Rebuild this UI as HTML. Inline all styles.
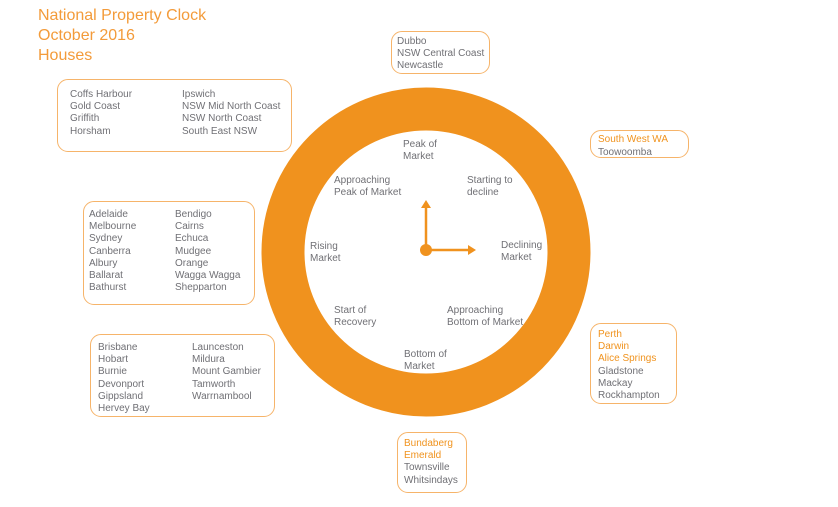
<!DOCTYPE html>
<html><head><meta charset="utf-8"><style>
body{margin:0;width:838px;height:507px;background:#fff;position:relative;overflow:hidden;font-family:"Liberation Sans",sans-serif}
.t{position:absolute;font-size:10px;line-height:12.2px;color:#707075;white-space:nowrap}
.o{color:#f0931e}
.b{position:absolute;border:1.5px solid #f6b46a;border-radius:11px;box-sizing:border-box}
.h{position:absolute;left:38px;top:6px;font-size:16px;line-height:20px;color:#f39b3a}
</style></head><body>
<div class="h">National Property Clock<br>October 2016<br>Houses</div>

<svg style="position:absolute;left:0;top:0" width="838" height="507">
<circle cx="426" cy="252" r="143" fill="none" stroke="#f0921e" stroke-width="43"/>
<circle cx="426" cy="250" r="6" fill="#f0921e"/>
<line x1="426" y1="250" x2="426" y2="205" stroke="#f0921e" stroke-width="2.5"/>
<polygon points="421,208 431,208 426,200" fill="#f0921e"/>
<line x1="426" y1="250" x2="470" y2="250" stroke="#f0921e" stroke-width="2.5"/>
<polygon points="468,245 468,255 476,250" fill="#f0921e"/>
</svg>

<div class="b" style="left:57px;top:79px;width:235px;height:73px"></div>
<div class="t" style="left:70px;top:89px">Coffs Harbour<br>Gold Coast<br>Griffith<br>Horsham</div>
<div class="t" style="left:182px;top:89px">Ipswich<br>NSW Mid North Coast<br>NSW North Coast<br>South East NSW</div>

<div class="b" style="left:83px;top:201px;width:172px;height:104px"></div>
<div class="t" style="left:89px;top:209px">Adelaide<br>Melbourne<br>Sydney<br>Canberra<br>Albury<br>Ballarat<br>Bathurst</div>
<div class="t" style="left:175px;top:209px">Bendigo<br>Cairns<br>Echuca<br>Mudgee<br>Orange<br>Wagga Wagga<br>Shepparton</div>

<div class="b" style="left:90px;top:334px;width:185px;height:83px"></div>
<div class="t" style="left:98px;top:342px">Brisbane<br>Hobart<br>Burnie<br>Devonport<br>Gippsland<br>Hervey Bay</div>
<div class="t" style="left:192px;top:342px">Launceston<br>Mildura<br>Mount Gambier<br>Tamworth<br>Warrnambool</div>

<div class="b" style="left:391px;top:31px;width:99px;height:43px"></div>
<div class="t" style="left:397px;top:36px">Dubbo<br>NSW Central Coast<br>Newcastle</div>

<div class="b" style="left:590px;top:130px;width:99px;height:28px"></div>
<div class="t" style="left:598px;top:133px;line-height:13px"><span class="o">South West WA</span><br>Toowoomba</div>

<div class="b" style="left:590px;top:323px;width:87px;height:81px"></div>
<div class="t" style="left:598px;top:329px"><span class="o">Perth<br>Darwin<br>Alice Springs</span><br>Gladstone<br>Mackay<br>Rockhampton</div>

<div class="b" style="left:397px;top:432px;width:70px;height:61px"></div>
<div class="t" style="left:404px;top:438px"><span class="o">Bundaberg<br>Emerald</span><br>Townsville<br>Whitsindays</div>

<div class="t" style="left:403px;top:139px">Peak of<br>Market</div>
<div class="t" style="left:334px;top:175px">Approaching<br>Peak of Market</div>
<div class="t" style="left:467px;top:175px">Starting to<br>decline</div>
<div class="t" style="left:310px;top:241px">Rising<br>Market</div>
<div class="t" style="left:501px;top:240px">Declining<br>Market</div>
<div class="t" style="left:334px;top:305px">Start of<br>Recovery</div>
<div class="t" style="left:447px;top:305px">Approaching<br>Bottom of Market</div>
<div class="t" style="left:404px;top:349px">Bottom of<br>Market</div>
</body></html>
